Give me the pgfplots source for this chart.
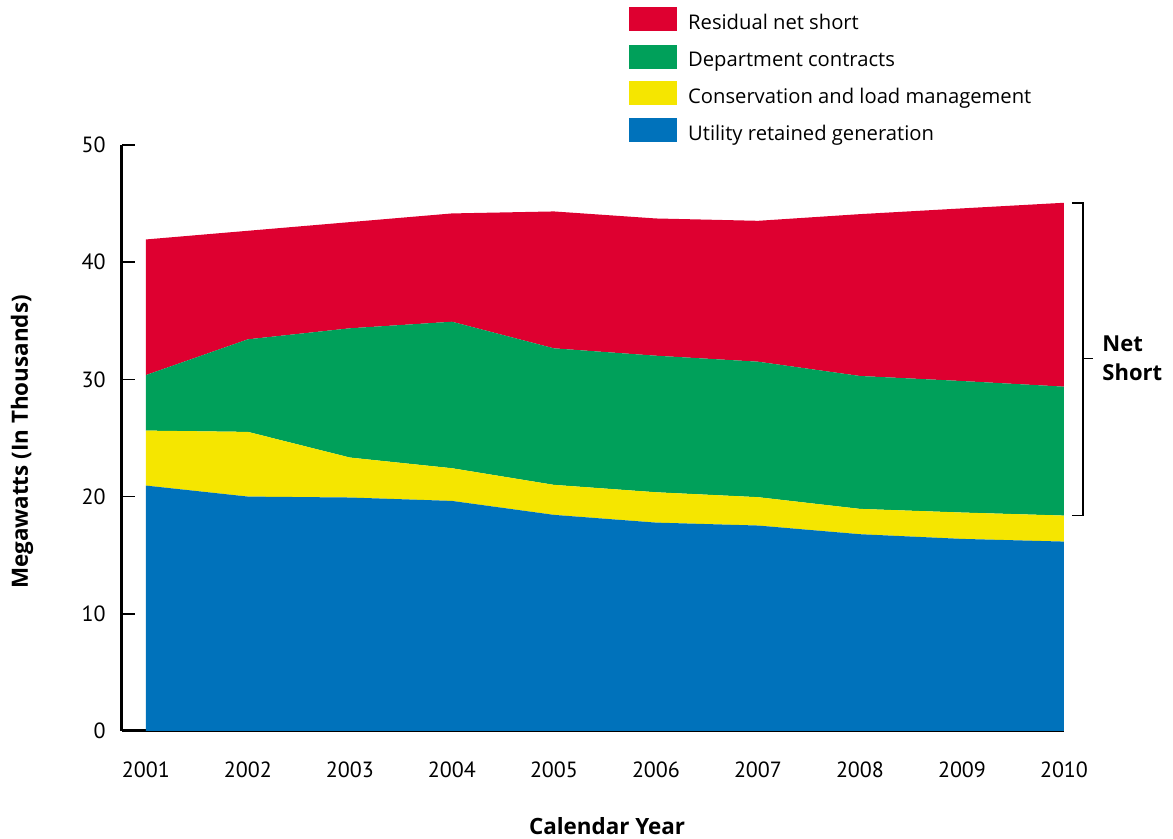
\documentclass[border=0pt]{standalone}
\usepackage{fontspec}
\setmainfont{PT Sans}
\newfontfamily\osans{Open Sans}
\usepackage{pgfplots}
\pgfplotsset{compat=1.18}
\definecolor{cred}{RGB}{222,0,48}
\definecolor{cgreen}{RGB}{0,160,90}
\definecolor{cyellow}{RGB}{245,230,0}
\definecolor{cblue}{RGB}{0,114,187}
\begin{document}
\begin{tikzpicture}
\path[use as bounding box] (-61pt,-54pt) rectangle (525.5pt,365.5pt);
\begin{axis}[
  at={(0pt,0pt)}, anchor=south west,
  scale only axis, width=471pt, height=293pt,
  xmin=2000.765, xmax=2010, ymin=0, ymax=50,
  axis lines=left, axis line style={line width=1.5pt,-},
  clip=false,
  stack plots=y,
  xtick={2001,2002,2003,2004,2005,2006,2007,2008,2009,2010},
  xticklabels={2001,2002,2003,2004,2005,2006,2007,2008,2009,2010},
  xtick style={draw=none},
  ytick={0,10,20,30,40,50},
  yticklabels={0,10,20,30,40,50},
  ytick style={line width=0.75pt, black},
  major tick length=6.5pt, tick align=inside,
  xticklabel style={anchor=center, yshift=-19.5pt, font=\fontsize{11}{13}\selectfont},
  yticklabel style={anchor=east, inner sep=0pt, xshift=-8pt, font=\fontsize{11}{13}\selectfont},
  xlabel={Calendar Year},
  ylabel={Megawatts (In Thousands)},
  xlabel style={at={(axis description cs:0.515,-0.162)}, anchor=center, font=\osans\bfseries\fontsize{11.2}{13}\selectfont},
  ylabel style={at={(axis description cs:-0.106,0.493)}, anchor=center, font=\osans\bfseries\fontsize{11.2}{13}\selectfont},
  reverse legend,
  legend cell align=left,
  legend image code/.code={\fill[#1] (0pt,-4pt) rectangle (24pt,8pt); \path (27.5pt,0pt);},
  legend style={at={(axis description cs:0.538,1.2355)}, anchor=north west,
    draw=none, fill=none, inner sep=0pt, row sep=4pt,
    font=\osans\fontsize{10.1}{12}\selectfont},
]
\addplot[fill=cblue, draw=none] coordinates {(2001,20.94)(2002,20.00)(2003,19.92)(2004,19.63)(2005,18.44)(2006,17.78)(2007,17.53)(2008,16.79)(2009,16.39)(2010,16.16)} \closedcycle;
\addlegendentry{Utility retained generation}
\addplot[fill=cyellow, draw=none] coordinates {(2001,4.69)(2002,5.52)(2003,3.41)(2004,2.79)(2005,2.56)(2006,2.59)(2007,2.42)(2008,2.16)(2009,2.25)(2010,2.22)} \closedcycle;
\addlegendentry{Conservation and load management}
\addplot[fill=cgreen, draw=none] coordinates {(2001,4.74)(2002,7.90)(2003,11.03)(2004,12.50)(2005,11.65)(2006,11.65)(2007,11.56)(2008,11.34)(2009,11.22)(2010,11.00)} \closedcycle;
\addlegendentry{Department contracts}
\addplot[fill=cred, draw=none] coordinates {(2001,11.57)(2002,9.26)(2003,9.06)(2004,9.24)(2005,11.68)(2006,11.71)(2007,12.02)(2008,13.81)(2009,14.73)(2010,15.69)} \closedcycle;
\addlegendentry{Residual net short}
\draw[line width=0.75pt] (axis cs:2010.078,45.07) -- (axis cs:2010.186,45.07) -- (axis cs:2010.186,18.38) -- (axis cs:2010.078,18.38);
\draw[line width=0.75pt] (axis cs:2010.186,31.8) -- (axis cs:2010.284,31.8);
\node[anchor=west, align=left, inner sep=0pt, font=\osans\bfseries\fontsize{11}{14.5}\selectfont] at (axis cs:2010.373,31.8) {Net\\Short};
\end{axis}
\end{tikzpicture}
\end{document}
